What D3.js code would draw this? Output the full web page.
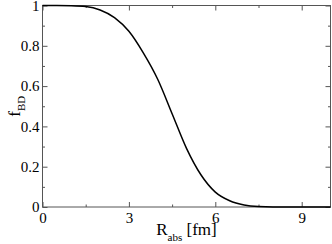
<!DOCTYPE html>
<html>
<head>
<meta charset="utf-8">
<script src="https://cdn.jsdelivr.net/npm/d3@7"></script>
<style>
  html, body { margin: 0; padding: 0; background: #fff; }
  svg { display: block; }
</style>
</head>
<body>
<svg id="chart"></svg>
<script>
// distance R_abs [fm] and f_BD
const rValues = [0, 0.5, 1, 1.5, 2, 2.5, 3, 3.5, 4, 4.5, 5, 5.5, 6, 6.5, 7, 7.5, 8, 8.5, 9, 9.5, 10];
const fValues = [1, 1, 0.999, 0.995, 0.978, 0.94, 0.872, 0.765, 0.634, 0.463, 0.291, 0.16, 0.074, 0.031, 0.01, 0.002, 0, 0, 0, 0, 0];

const xMajorTicks = [0, 3, 6, 9];
const xMinorTicks = [1.5, 4.5, 7.5];
const yMajorTicks = [0, 0.2, 0.4, 0.6, 0.8, 1];
const yMinorTicks = [0.1, 0.3, 0.5, 0.7, 0.9];

const width = 332, height = 244;
const margin = { top: 5.5, right: 1.5, bottom: 37, left: 42.5 };
const frameColor = '#555';
const font = 'Liberation Serif';

const svg = d3.select('#chart').attr('width', width).attr('height', height);

const x = d3.scaleLinear().domain([0, 10]).range([margin.left, width - margin.right]);
const y = d3.scaleLinear().domain([0, 1]).range([height - margin.bottom, margin.top]);

function styleAxis(g) {
  g.select('.domain').remove();
  g.selectAll('.tick line').attr('stroke', frameColor);
  g.selectAll('.tick text')
    .attr('fill', '#000')
    .attr('font-family', font)
    .attr('font-size', 15);
}

// bottom
svg.append('g').attr('transform', `translate(0,${y(0)})`)
  .call(d3.axisBottom(x).tickValues(xMajorTicks).tickSize(-5).tickPadding(5).tickFormat(d3.format('d')))
  .call(styleAxis);
svg.append('g').attr('transform', `translate(0,${y(0)})`)
  .call(d3.axisBottom(x).tickValues(xMinorTicks).tickSize(-2.5).tickFormat(''))
  .call(styleAxis);
// top
svg.append('g').attr('transform', `translate(0,${y(1)})`)
  .call(d3.axisTop(x).tickValues(xMajorTicks).tickSize(-5).tickFormat(''))
  .call(styleAxis);
svg.append('g').attr('transform', `translate(0,${y(1)})`)
  .call(d3.axisTop(x).tickValues(xMinorTicks).tickSize(-2.5).tickFormat(''))
  .call(styleAxis);
// left
svg.append('g').attr('transform', `translate(${x(0)},0)`)
  .call(d3.axisLeft(y).tickValues(yMajorTicks).tickSize(-5).tickPadding(3).tickFormat(d => d))
  .call(styleAxis);
svg.append('g').attr('transform', `translate(${x(0)},0)`)
  .call(d3.axisLeft(y).tickValues(yMinorTicks).tickSize(-2.5).tickFormat(''))
  .call(styleAxis);
// right
svg.append('g').attr('transform', `translate(${x(10)},0)`)
  .call(d3.axisRight(y).tickValues(yMajorTicks).tickSize(-5).tickFormat(''))
  .call(styleAxis);
svg.append('g').attr('transform', `translate(${x(10)},0)`)
  .call(d3.axisRight(y).tickValues(yMinorTicks).tickSize(-2.5).tickFormat(''))
  .call(styleAxis);

// frame
svg.append('rect')
  .attr('x', x(0)).attr('y', y(1))
  .attr('width', x(10) - x(0)).attr('height', y(0) - y(1))
  .attr('fill', 'none').attr('stroke', frameColor).attr('stroke-width', 1);

// curve
const line = d3.line()
  .x((d, i) => x(rValues[i]))
  .y(d => y(d))
  .curve(d3.curveMonotoneX);

svg.append('path')
  .datum(fValues)
  .attr('fill', 'none')
  .attr('stroke', '#000')
  .attr('stroke-width', 1.5)
  .attr('d', line);

// axis titles
const xTitle = svg.append('text')
  .attr('x', (x(0) + x(10)) / 2).attr('y', 235)
  .attr('text-anchor', 'middle')
  .attr('font-family', font).attr('font-size', 17);
xTitle.append('tspan').text('R');
xTitle.append('tspan').attr('dy', 6).attr('font-size', 11).text('abs');
xTitle.append('tspan').attr('dy', -6).text(' [fm]');

const yTitle = svg.append('text')
  .attr('transform', `translate(20,${(y(0) + y(1)) / 2}) rotate(-90)`)
  .attr('text-anchor', 'middle')
  .attr('font-family', font).attr('font-size', 17);
yTitle.append('tspan').text('f');
yTitle.append('tspan').attr('dy', 5).attr('font-size', 11).text('BD');
</script>
</body>
</html>
